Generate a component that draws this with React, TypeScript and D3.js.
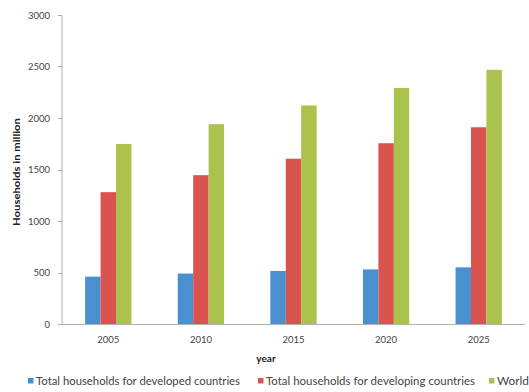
import React from "react";
import * as d3 from "d3";

const years = ["2005", "2010", "2015", "2020", "2025"];
const developed = [460, 490, 515, 530, 550];
const developing = [1280, 1445, 1605, 1755, 1910];
const world = [1748, 1940, 2122, 2292, 2468];
const seriesNames = [
  "Total households for developed countries",
  "Total households for developing countries",
  "World",
];
const seriesColors = ["#4a8fce", "#d9534f", "#abc34c"];
const yTicks = [0, 500, 1000, 1500, 2000, 2500, 3000];

const W = 529;
const H = 392;
const left = 62;
const right = 525;
const top = 15;
const bottom = 324;
const font = "Lato, 'Open Sans', sans-serif";

export default function App() {
  const x = d3.scaleBand<string>().domain(years).range([left, right]).paddingInner(0.5).paddingOuter(0.25);
  const xs = d3.scaleBand<number>().domain([0, 1, 2]).range([0, x.bandwidth()]);
  const y = d3.scaleLinear().domain([0, 3000]).range([bottom, top]);
  const series = [developed, developing, world];
  const legendX = [28, 258, 489];
  const legendW = [204, 209, 32];
  return (
    <svg width={W} height={H} style={{ position: "absolute", left: 0, top: 0, background: "#fff" }}>
      <line x1={left} x2={left} y1={top} y2={bottom} stroke="#b0b0b0" strokeWidth={1} />
      <line x1={left} x2={right} y1={bottom + 0.5} y2={bottom + 0.5} stroke="#b0b0b0" strokeWidth={1} />
      {yTicks.map((t) => (
        <g key={t}>
          <line x1={left - 4} x2={left} y1={Math.round(y(t)) + 0.5} y2={Math.round(y(t)) + 0.5} stroke="#b0b0b0" />
          <text x={50} y={y(t) + 3.5} textAnchor="end" fontSize={9.5} fill="#444" fontFamily={font}>
            {t}
          </text>
        </g>
      ))}
      {series.map((vals, si) =>
        vals.map((v, i) => (
          <rect
            key={si + "-" + i}
            x={(x(years[i]) as number) + (xs(si) as number)}
            y={y(v)}
            width={xs.bandwidth()}
            height={bottom - y(v)}
            fill={seriesColors[si]}
          />
        ))
      )}
      {years.map((yr) => (
        <text key={yr} x={(x(yr) as number) + x.bandwidth() / 2} y={343} textAnchor="middle" fontSize={9.5} fill="#444" fontFamily={font}>
          {yr}
        </text>
      ))}
      <text x={266} y={362} textAnchor="middle" fontSize={10} fontWeight="bold" fill="#222" fontFamily={font}>
        year
      </text>
      <text
        transform={`translate(20,172) rotate(-90)`}
        textAnchor="middle"
        fontSize={10}
        fontWeight="bold"
        fill="#222"
        fontFamily={font}
        textLength={108}
        lengthAdjust="spacingAndGlyphs"
      >
        Households in million
      </text>
      {seriesNames.map((n, i) => (
        <g key={n}>
          <rect x={legendX[i]} y={378} width={5.5} height={5.5} fill={seriesColors[i]} />
          <text x={legendX[i] + 8} y={384.5} fontSize={10.5} fill="#444" fontFamily={font} textLength={legendW[i]} lengthAdjust="spacingAndGlyphs">
            {n}
          </text>
        </g>
      ))}
    </svg>
  );
}
